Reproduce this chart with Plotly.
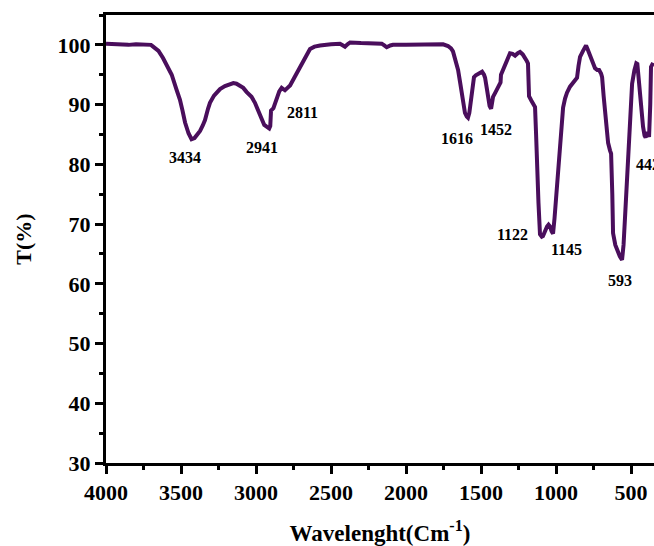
import plotly.graph_objects as go

wavenumber = [4000, 3950, 3900, 3873, 3850, 3800, 3750, 3700, 3690, 3670, 3650, 3620, 3590, 3562, 3530, 3507, 3490, 3473, 3450, 3430, 3410, 3390, 3373, 3355, 3340, 3320, 3307, 3280, 3240, 3207, 3170, 3151, 3130, 3107, 3085, 3062, 3030, 3007, 2985, 2962, 2945, 2929, 2912, 2905, 2900, 2884, 2870, 2862, 2845, 2829, 2815, 2807, 2790, 2773, 2745, 2718, 2690, 2660, 2640, 2610, 2573, 2500, 2440, 2420, 2407, 2390, 2373, 2300, 2200, 2162, 2145, 2129, 2105, 2087, 2000, 1900, 1800, 1753, 1720, 1700, 1687, 1670, 1653, 1640, 1627, 1615, 1607, 1595, 1587, 1578, 1573, 1560, 1547, 1535, 1520, 1505, 1493, 1480, 1473, 1462, 1453, 1443, 1433, 1427, 1420, 1405, 1393, 1380, 1370, 1367, 1355, 1340, 1320, 1307, 1290, 1273, 1255, 1240, 1222, 1207, 1195, 1187, 1183, 1180, 1165, 1153, 1140, 1133, 1127, 1117, 1107, 1095, 1087, 1075, 1060, 1050, 1040, 1030, 1020, 1010, 993, 975, 953, 940, 927, 907, 887, 870, 860, 850, 840, 820, 800, 790, 773, 755, 740, 725, 713, 700, 693, 683, 673, 660, 653, 640, 633, 625, 620, 605, 593, 575, 560, 550, 540, 530, 520, 505, 493, 478, 465, 458, 447, 435, 420, 410, 403, 393, 385, 380, 372, 367, 353]
transmittance = [100.2, 100.1, 100.1, 99.9, 100.0, 100.1, 100.1, 100.0, 99.8, 99.4, 99.0, 97.8, 96.5, 95.0, 92.5, 90.8, 89.0, 87.0, 85.2, 84.2, 84.4, 85.0, 85.6, 86.5, 87.4, 89.3, 90.3, 91.5, 92.6, 93.1, 93.5, 93.6, 93.5, 93.2, 92.8, 92.1, 91.3, 90.3, 89.0, 87.7, 86.6, 86.3, 86.0, 86.4, 89.0, 89.4, 90.5, 91.1, 92.2, 92.8, 92.6, 92.4, 92.8, 93.2, 94.5, 95.8, 97.0, 98.4, 99.3, 99.7, 99.9, 100.1, 100.2, 99.9, 99.7, 100.1, 100.4, 100.3, 100.3, 100.2, 99.9, 99.6, 99.9, 100.0, 100.0, 100.1, 100.1, 100.1, 99.8, 99.4, 98.9, 97.5, 95.8, 93.8, 91.8, 89.8, 88.6, 88.0, 87.8, 88.6, 89.6, 92.3, 94.6, 94.9, 95.1, 95.4, 95.5, 95.0, 94.5, 92.8, 91.0, 89.8, 89.3, 90.3, 91.3, 92.0, 92.5, 93.2, 93.7, 95.0, 95.8, 96.6, 97.8, 98.6, 98.5, 98.2, 98.6, 98.8, 98.4, 97.9, 97.3, 96.9, 94.0, 91.4, 90.7, 90.3, 89.6, 85.0, 79.6, 73.5, 68.3, 67.9, 68.0, 68.9, 69.6, 69.9, 69.6, 68.8, 68.4, 71.0, 76.3, 83.0, 89.5, 91.0, 92.0, 93.0, 93.6, 94.1, 94.5, 96.5, 98.0, 99.0, 99.9, 99.3, 98.2, 97.0, 96.1, 95.8, 95.8, 95.2, 94.6, 91.5, 88.6, 85.0, 83.6, 82.3, 81.8, 75.0, 68.5, 66.5, 65.6, 64.6, 64.0, 66.5, 71.2, 76.5, 82.4, 89.0, 93.5, 95.7, 96.9, 96.8, 93.5, 90.0, 86.3, 84.8, 84.5, 85.4, 85.0, 84.6, 90.0, 96.3, 97.0]

peak_labels = ["3434", "2941", "2811", "1616", "1452", "1122", "1145", "593", "442"]
label_x = [3473, 2960, 2693, 1660, 1400, 1287, 933, 573, 387]
label_y = [81.2, 82.9, 88.6, 84.3, 85.8, 68.2, 65.8, 60.6, 79.9]

x_tickvals = [4000, 3500, 3000, 2500, 2000, 1500, 1000, 500]
y_tickvals = [30, 40, 50, 60, 70, 80, 90, 100]

font_family = "Liberation Serif"
line_color = "#4a0e5c"

fig = go.Figure()
fig.add_trace(go.Scatter(
    x=wavenumber, y=transmittance, mode="lines",
    line=dict(color=line_color, width=4),
    showlegend=False, cliponaxis=False,
))

for txt, lx, ly in zip(peak_labels, label_x, label_y):
    fig.add_annotation(x=lx, y=ly, text="<b>%s</b>" % txt, showarrow=False,
                       xanchor="center", yanchor="middle",
                       font=dict(family=font_family, size=16, color="black"))

fig.update_layout(
    width=654, height=546,
    margin=dict(l=106, r=0, t=15, b=83),
    paper_bgcolor="white", plot_bgcolor="white",
    font=dict(family=font_family, color="black"),
)

fig.update_xaxes(
    range=[4000, 347],
    tickvals=x_tickvals, ticktext=["<b>%d</b>" % v for v in x_tickvals],
    ticks="outside", ticklen=8, tickwidth=3, tickcolor="black",
    minor=dict(dtick=250, tick0=0, ticks="outside", ticklen=4, tickwidth=3, tickcolor="black"),
    showline=True, linewidth=3, linecolor="black", mirror=True,
    showgrid=False, zeroline=False,
    tickfont=dict(family=font_family, size=22, color="black"),
    title=dict(text="<b>Wavelenght(Cm<sup>-1</sup>)</b>",
               font=dict(family=font_family, size=23, color="black"), standoff=22),
)
fig.update_yaxes(
    range=[30, 105],
    tickvals=y_tickvals, ticktext=["<b>%d</b>" % v for v in y_tickvals],
    ticks="outside", ticklen=8, tickwidth=3, tickcolor="black",
    minor=dict(dtick=5, tick0=0, ticks="outside", ticklen=4, tickwidth=3, tickcolor="black"),
    showline=True, linewidth=3, linecolor="black",
    showgrid=False, zeroline=False,
    tickfont=dict(family=font_family, size=22, color="black"),
    title=dict(text="<b>T(%)</b>",
               font=dict(family=font_family, size=22, color="black"), standoff=20),
)

fig.write_html("out.html")
